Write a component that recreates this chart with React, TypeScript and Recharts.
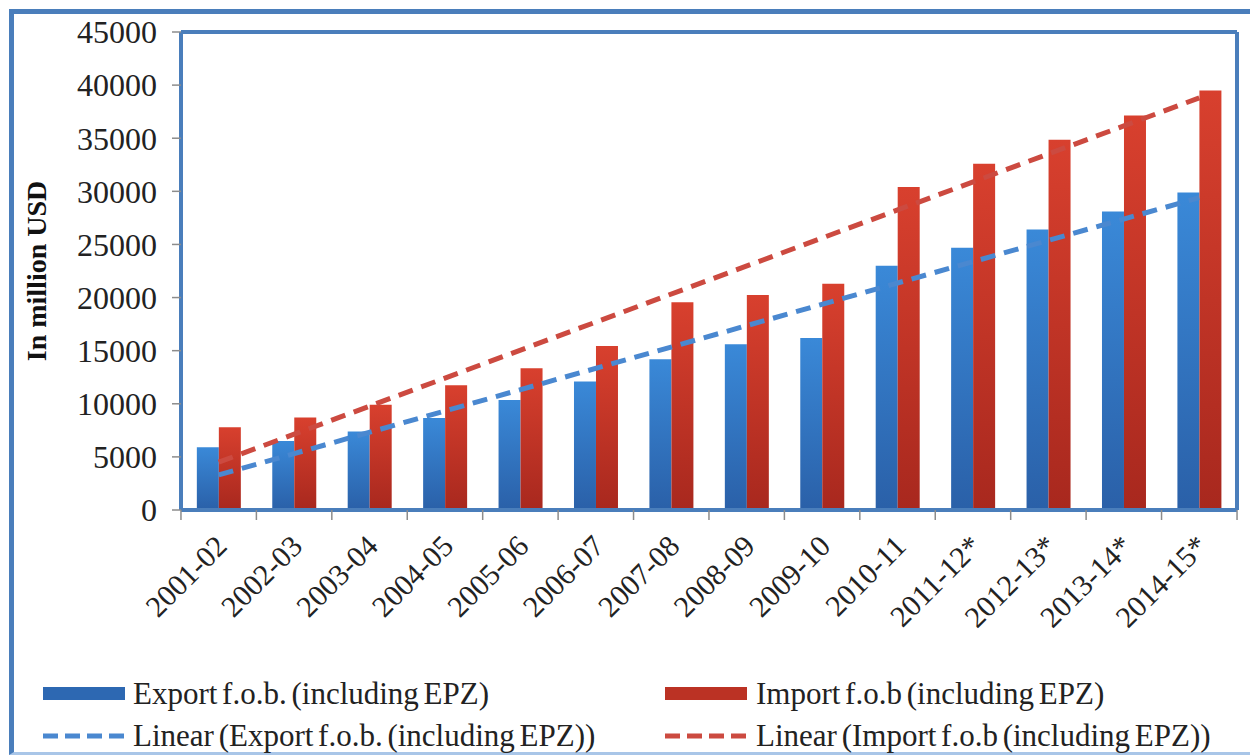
import React from 'react';
import { ComposedChart, Bar, Line, XAxis, YAxis } from 'recharts';

const years = [
  '2001-02', '2002-03', '2003-04', '2004-05', '2005-06', '2006-07', '2007-08',
  '2008-09', '2009-10', '2010-11', '2011-12*', '2012-13*', '2013-14*', '2014-15*',
];
const exportValues = [5900, 6500, 7400, 8650, 10350, 12100, 14200, 15600, 16200, 23000, 24700, 26400, 28100, 29900];
const importValues = [7800, 8700, 9900, 11750, 13350, 15450, 19550, 20250, 21300, 30400, 32600, 34850, 37150, 39500];
// trendline end points (straight line between them)
const exportTrend = [3300, null, null, null, null, null, null, null, null, null, null, null, null, 29400];
const importTrend = [4500, null, null, null, null, null, null, null, null, null, null, null, null, 38800];
const yTicks = [0, 5000, 10000, 15000, 20000, 25000, 30000, 35000, 40000, 45000];

const data = years.map((year, i) => ({
  year,
  export: exportValues[i],
  import: importValues[i],
  exportTrend: exportTrend[i],
  importTrend: importTrend[i],
}));

const BLUE_LINE = '#4a7ebb';
const SERIF = '"Liberation Serif", "Times New Roman", serif';
const MARGIN = { top: 31, right: 12, left: 100, bottom: 0 };
const Y_WIDTH = 81;
const CHART_W = 1250;
const HALF_BAND = (CHART_W - MARGIN.left - MARGIN.right - Y_WIDTH) / years.length / 2;

const XTick = (props: any) => {
  const { x, y, payload, index } = props;
  const ax = x + 10;
  const ay = y + 38;
  return (
    <g>
      <line x1={x - HALF_BAND} y1={y} x2={x - HALF_BAND} y2={y + 10} stroke="#8c8c8c" strokeWidth={1.5} />
      {index === years.length - 1 && (
        <line x1={x + HALF_BAND} y1={y} x2={x + HALF_BAND} y2={y + 10} stroke="#8c8c8c" strokeWidth={1.5} />
      )}
      <text
        x={ax}
        y={ay}
        textAnchor="end"
        transform={`rotate(-45 ${ax} ${ay})`}
        fontSize={30}
        fontFamily={SERIF}
        fill="#222"
      >
        {payload.value}
      </text>
    </g>
  );
};

const YLabel = (props: any) => {
  const vb = props.viewBox || { y: 31, height: 479 };
  const cy = vb.y + vb.height / 2;
  return (
    <text
      x={36}
      y={cy}
      transform={`rotate(-90 36 ${cy})`}
      textAnchor="middle"
      dominantBaseline="central"
      fontSize={28}
      fontWeight="bold"
      fontFamily={SERIF}
      fill="#111"
    >
      In million USD
    </text>
  );
};

const legendText = {
  fontSize: 31,
  fontFamily: SERIF,
  fill: '#222',
  wordSpacing: -3,
};

export default function App() {
  return (
    <div style={{ position: 'absolute', left: 0, top: 0, width: 1250, height: 755, background: '#fff', overflow: 'hidden' }}>
      <div
        style={{
          position: 'absolute',
          left: 9,
          top: 9,
          width: 1300,
          height: 746,
          boxSizing: 'border-box',
          border: `5px solid ${BLUE_LINE}`,
          borderBottom: '3px solid #a9c6e8',
        }}
      />
      <div style={{ position: 'absolute', left: 0, top: 0 }}>
        <ComposedChart width={CHART_W} height={660} data={data} margin={MARGIN} barCategoryGap="21%" barGap={0}>
          <defs>
            <linearGradient id="gBlue" x1="0" y1="0" x2="0" y2="1">
              <stop offset="0%" stopColor="#3a89d8" />
              <stop offset="100%" stopColor="#2a60a8" />
            </linearGradient>
            <linearGradient id="gRed" x1="0" y1="0" x2="0" y2="1">
              <stop offset="0%" stopColor="#d8402e" />
              <stop offset="100%" stopColor="#a8281e" />
            </linearGradient>
          </defs>
          <XAxis
            dataKey="year"
            interval={0}
            height={150}
            tickSize={0}
            tickMargin={0}
            tickLine={false}
            axisLine={{ stroke: BLUE_LINE, strokeWidth: 4 }}
            tick={<XTick />}
          />
          <XAxis
            xAxisId="top"
            dataKey="year"
            orientation="top"
            height={1}
            tick={false}
            tickLine={false}
            axisLine={{ stroke: BLUE_LINE, strokeWidth: 4 }}
          />
          <YAxis
            width={Y_WIDTH}
            domain={[0, 45000]}
            ticks={yTicks}
            interval={0}
            tickSize={9}
            tickMargin={15}
            tickLine={{ stroke: '#8c8c8c', strokeWidth: 1.5 }}
            axisLine={{ stroke: BLUE_LINE, strokeWidth: 4 }}
            tick={{ fontSize: 32, fontFamily: SERIF, fill: '#222' }}
            label={<YLabel />}
          />
          <YAxis
            yAxisId="right"
            orientation="right"
            width={1}
            domain={[0, 45000]}
            ticks={yTicks}
            tick={false}
            tickLine={false}
            axisLine={{ stroke: BLUE_LINE, strokeWidth: 4 }}
          />
          <Bar dataKey="export" fill="url(#gBlue)" isAnimationActive={false} />
          <Bar dataKey="import" fill="url(#gRed)" isAnimationActive={false} />
          <Line
            xAxisId="top"
            yAxisId="right"
            dataKey="exportTrend"
            stroke="#4a88d0"
            strokeWidth={5}
            strokeDasharray="15 9"
            dot={false}
            activeDot={false}
            connectNulls
            isAnimationActive={false}
          />
          <Line
            xAxisId="top"
            yAxisId="right"
            dataKey="importTrend"
            stroke="#cc4a40"
            strokeWidth={5}
            strokeDasharray="15 9"
            dot={false}
            activeDot={false}
            connectNulls
            isAnimationActive={false}
          />
        </ComposedChart>
      </div>
      <svg width={1250} height={755} style={{ position: 'absolute', left: 0, top: 0, pointerEvents: 'none' }}>
        <rect x={43} y={687} width={82} height={13} fill="#2d68b2" />
        <line x1={43} y1={736} x2={125} y2={736} stroke="#4a88d0" strokeWidth={5} strokeDasharray="15 7" />
        <text x={133} y={704} {...legendText}>Export f.o.b. (including EPZ)</text>
        <text x={133} y={746} {...legendText}>Linear (Export f.o.b. (including EPZ))</text>
        <rect x={665} y={687} width={82} height={13} fill="#bb3224" />
        <line x1={665} y1={736} x2={747} y2={736} stroke="#cc4a40" strokeWidth={5} strokeDasharray="15 7" />
        <text x={756} y={704} {...legendText}>Import f.o.b (including EPZ)</text>
        <text x={756} y={746} {...legendText}>Linear (Import f.o.b (including EPZ))</text>
      </svg>
    </div>
  );
}
